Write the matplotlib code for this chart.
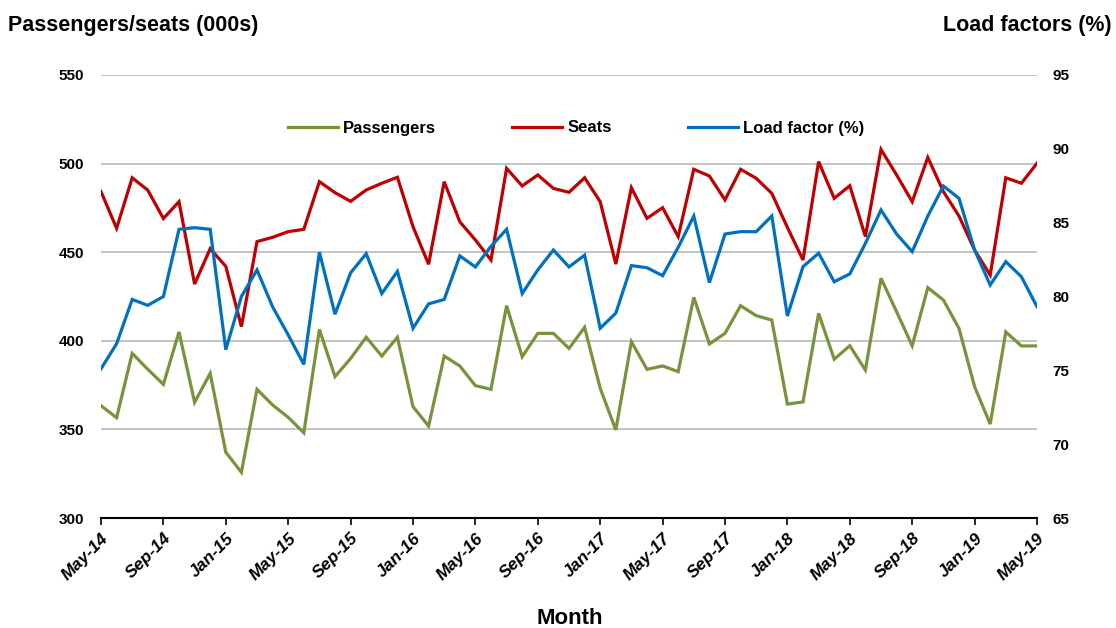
import matplotlib
matplotlib.use("Agg")
import matplotlib.pyplot as plt
from matplotlib import font_manager as fm

months = ["May-14", "Jun-14", "Jul-14", "Aug-14", "Sep-14", "Oct-14", "Nov-14", "Dec-14",
          "Jan-15", "Feb-15", "Mar-15", "Apr-15", "May-15", "Jun-15", "Jul-15", "Aug-15",
          "Sep-15", "Oct-15", "Nov-15", "Dec-15", "Jan-16", "Feb-16", "Mar-16", "Apr-16",
          "May-16", "Jun-16", "Jul-16", "Aug-16", "Sep-16", "Oct-16", "Nov-16", "Dec-16",
          "Jan-17", "Feb-17", "Mar-17", "Apr-17", "May-17", "Jun-17", "Jul-17", "Aug-17",
          "Sep-17", "Oct-17", "Nov-17", "Dec-17", "Jan-18", "Feb-18", "Mar-18", "Apr-18",
          "May-18", "Jun-18", "Jul-18", "Aug-18", "Sep-18", "Oct-18", "Nov-18", "Dec-18",
          "Jan-19", "Feb-19", "Mar-19", "Apr-19", "May-19"]

passengers = [363.4, 356.6, 392.9, 383.9, 375.4, 405.0, 365.3, 381.6, 337.1, 325.8,
              372.6, 363.8, 356.8, 348.1, 406.4, 379.8, 390.0, 402.0, 391.4, 402.0,
              362.8, 351.9, 391.4, 385.8, 374.7, 372.6, 419.8, 391.0, 404.2, 404.2,
              395.7, 407.6, 373.2, 349.7, 399.5, 383.9, 385.8, 382.6, 424.5, 398.2,
              404.2, 419.8, 414.2, 411.7, 364.3, 365.5, 415.5, 389.6, 397.2, 383.5,
              435.3, 416.4, 397.2, 430.0, 423.0, 407.0, 374.1, 353.0, 405.0, 397.1, 397.1]

seats = [484.2, 463.5, 492.0, 485.0, 469.0, 478.5, 432.0, 452.0, 442.0, 408.0,
         456.0, 458.4, 461.6, 462.9, 489.8, 483.6, 478.7, 485.1, 488.9, 492.3,
         464.4, 443.2, 489.8, 467.2, 456.9, 445.6, 497.3, 487.4, 493.6, 486.0,
         483.8, 492.0, 478.5, 443.3, 486.4, 469.1, 475.1, 458.8, 496.8, 493.0,
         479.5, 496.8, 491.7, 483.2, 464.0, 445.6, 501.1, 480.4, 487.5, 458.8,
         508.0, 493.6, 478.5, 503.5, 484.2, 470.4, 451.2, 437.1, 492.0, 488.9, 500.2]

load_factor = [75.1, 76.8, 79.8, 79.4, 80.0, 84.55, 84.66, 84.55, 76.4, 80.0,
               81.8, 79.3, 77.4, 75.4, 83.0, 78.8, 81.6, 82.9, 80.2, 81.7,
               77.85, 79.5, 79.8, 82.75, 82.0, 83.4, 84.55, 80.2, 81.8, 83.15,
               82.0, 82.8, 77.85, 78.87, 82.09, 81.95, 81.41, 83.33, 85.45, 80.94,
               84.23, 84.39, 84.39, 85.45, 78.68, 82.02, 82.93, 81.0, 81.53, 83.6,
               85.86, 84.23, 83.04, 85.45, 87.48, 86.65, 83.15, 80.78, 82.36, 81.34, 79.31]

left_ticks = [300, 350, 400, 450, 500, 550]
right_ticks = [65, 70, 75, 80, 85, 90, 95]
tick_step = 4

names = {f.name for f in fm.fontManager.ttflist}
fam = "Liberation Sans Narrow" if "Liberation Sans Narrow" in names else "Liberation Sans"
plt.rcParams['font.family'] = [fam, 'DejaVu Sans']

GREEN = "#77933C"
RED = "#C00000"
BLUE = "#0070C0"

fig = plt.figure(figsize=(11.16, 6.28), dpi=100)
ax = fig.add_axes([101/1116, 110/628, 936/1116, 443/628])
ax2 = ax.twinx()

x = list(range(len(months)))
l1, = ax.plot(x, passengers, color=GREEN, lw=2.3, solid_joinstyle='miter', zorder=3)
l2, = ax.plot(x, seats, color=RED, lw=2.3, solid_joinstyle='miter', zorder=3)
l3, = ax2.plot(x, load_factor, color=BLUE, lw=2.3, solid_joinstyle='miter', zorder=3)

ax.set_xlim(0, len(months) - 1)
ax.set_ylim(300, 550)
ax2.set_ylim(65, 95)
ax.set_yticks(left_ticks)
ax2.set_yticks(right_ticks)
for v in left_ticks[1:]:
    ax.axhline(v, color="#BFBFBF", lw=1.3, zorder=1)

for a in (ax, ax2):
    for s in ("top", "left", "right", "bottom"):
        a.spines[s].set_visible(False)
ax.spines["bottom"].set_visible(True)
ax.spines["bottom"].set_color("black")
ax.spines["bottom"].set_linewidth(1.5)

ax.tick_params(axis='y', length=0, pad=12, labelsize=11)
ax2.tick_params(axis='y', length=0, pad=11, labelsize=11)
for lab in ax.get_yticklabels() + ax2.get_yticklabels():
    lab.set_fontweight('bold')

xt = list(range(0, len(months), tick_step))
ax.set_xticks(xt)
ax.set_xticklabels([months[i] for i in xt], rotation=45, ha='right',
                   rotation_mode='anchor', fontsize=12.5, fontweight='bold', fontstyle='italic')
ax.tick_params(axis='x', direction='out', length=5, width=1.2, pad=4)

fig.text(8/1116, 1 - 25/628, "Passengers/seats (000s)", fontsize=15.5, fontweight='bold',
         ha='left', va='center')
fig.text(1112/1116, 1 - 25/628, "Load factors (%)", fontsize=15.5, fontweight='bold',
         ha='right', va='center')
fig.text(570/1116, 1 - 618/628, "Month", fontsize=16, fontweight='bold',
         ha='center', va='center')

fig.legend([l1, l2, l3], ["Passengers", "Seats", "Load factor (%)"],
           loc='center', bbox_to_anchor=(576/1116, 1 - 128/628), ncol=3, frameon=False,
           handlelength=3.0, handletextpad=0.3, columnspacing=4.6,
           prop={'weight': 'bold', 'size': 12, 'family': [fam, 'DejaVu Sans']})

fig.savefig("out.png", dpi=100)
